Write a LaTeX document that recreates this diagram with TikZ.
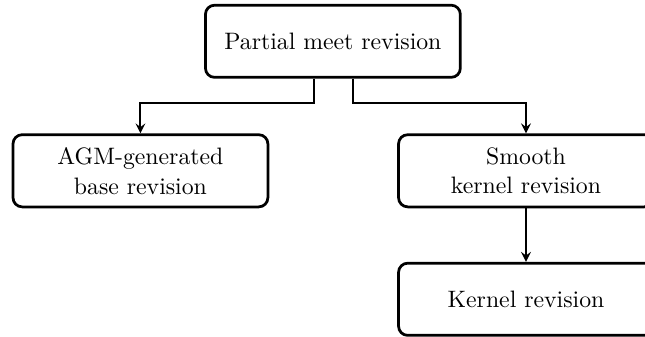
\documentclass[tikz,border=0pt]{standalone}
\usepackage{tikz}

\begin{document}
\begin{tikzpicture}
\tikzset{ >=stealth,
  revbox/.style={draw, very thick, rounded corners=4pt, align=center,
                 minimum width=3.92cm, minimum height=1.11cm, inner sep=2pt,
                 font=\fontsize{10.4}{13}\selectfont},
  revarrow/.style={->, line width=0.9pt},
}

\useasboundingbox (0,0) rectangle (9.92,5.18);
%\draw [lightgray, dashed](0,0) grid (10,5);

\node [revbox] (PMR) at (5.12,4.545) {Partial meet revision};
\node [revbox] (AGM) at (2.16,2.553) {AGM-generated\\base revision};
\node [revbox] (SKR) at (8.09,2.553) {Smooth\\kernel revision};
\node [revbox] (KR)  at (8.09,0.577) {Kernel revision};

\draw [revarrow] ([xshift=-0.29cm]PMR.south) -- ++(0,-0.38) -| (AGM.north);
\draw [revarrow] ([xshift= 0.31cm]PMR.south) -- ++(0,-0.38) -| (SKR.north);
\draw [revarrow] (SKR) -- (KR);
\end{tikzpicture}
\end{document}
